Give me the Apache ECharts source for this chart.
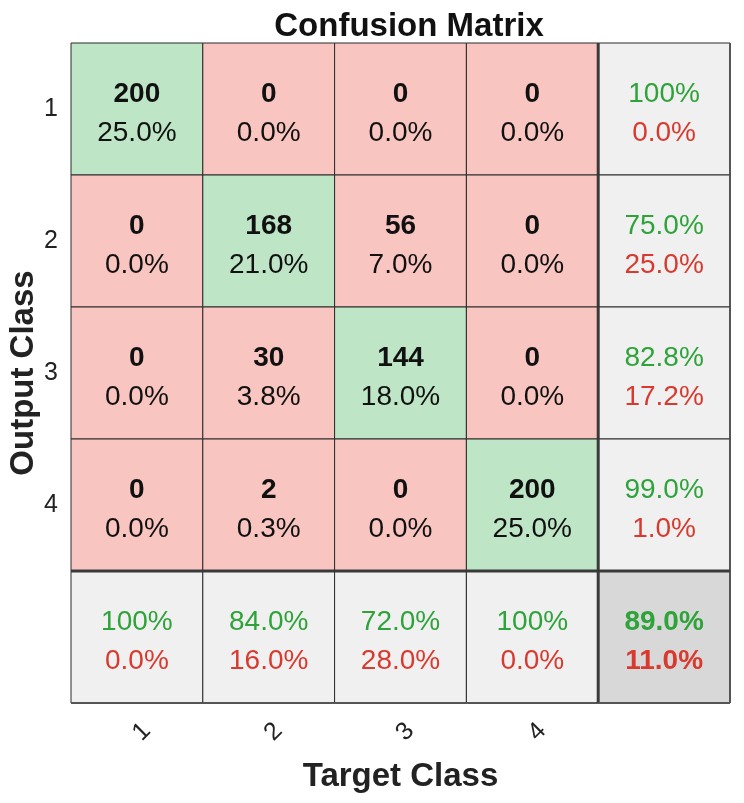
<!DOCTYPE html>
<html><head><meta charset="utf-8">
<script src="https://cdn.jsdelivr.net/npm/echarts@6/dist/echarts.min.js"></script>
<style>html,body{margin:0;padding:0;background:#fff}#c{width:744px;height:803px}</style>
</head><body><div id="c"></div>
<script>
var targetClasses = ['1', '2', '3', '4', ' '];
var outputClasses = ['1', '2', '3', '4', ' '];
// counts[row = output][col = target]
var counts = [
  [200, 0, 0, 0],
  [0, 168, 56, 0],
  [0, 30, 144, 0],
  [0, 2, 0, 200]
];
var cellPercents = [
  ['25.0%', '0.0%', '0.0%', '0.0%'],
  ['0.0%', '21.0%', '7.0%', '0.0%'],
  ['0.0%', '3.8%', '18.0%', '0.0%'],
  ['0.0%', '0.3%', '0.0%', '25.0%']
];
var rowCorrect = ['100%', '75.0%', '82.8%', '99.0%'];
var rowWrong = ['0.0%', '25.0%', '17.2%', '1.0%'];
var colCorrect = ['100%', '84.0%', '72.0%', '100%'];
var colWrong = ['0.0%', '16.0%', '28.0%', '0.0%'];
var totalCorrect = '89.0%';
var totalWrong = '11.0%';

var cells = [];
var meta = [];
for (var r = 0; r < 5; r++) {
  for (var c = 0; c < 5; c++) {
    var kind, line1, line2;
    if (r < 4 && c < 4) {
      kind = (r === c) ? 'diag' : 'off';
      line1 = String(counts[r][c]); line2 = cellPercents[r][c];
    } else if (r < 4 && c === 4) {
      kind = 'sum'; line1 = rowCorrect[r]; line2 = rowWrong[r];
    } else if (r === 4 && c < 4) {
      kind = 'sum'; line1 = colCorrect[c]; line2 = colWrong[c];
    } else {
      kind = 'total'; line1 = totalCorrect; line2 = totalWrong;
    }
    cells.push([c, r]);
    meta.push({ kind: kind, t1: line1, t2: line2 });
  }
}

var FONT = '"Liberation Sans", Arial, Helvetica, sans-serif';
var fills = { diag: '#bde5c6', off: '#f8c5c1', sum: '#f0f0f0', total: '#d8d8d8' };
var GREEN = '#2ea33a', RED = '#d83a2f';

function renderCell(params, api) {
  var m = meta[params.dataIndex];
  var c = api.value(0), r = api.value(1);
  var p = api.coord([c, r]);
  var s = api.size([1, 1]);
  var x0 = p[0] - s[0] / 2, y0 = p[1] - s[1] / 2;
  var isSum = m.kind === 'sum' || m.kind === 'total';
  var topColor = isSum ? GREEN : '#111';
  var botColor = isSum ? RED : '#111';
  var topWeight = (m.kind === 'sum') ? 'normal' : 'bold';
  var botWeight = m.kind === 'total' ? 'bold' : 'normal';
  var children = [
    { type: 'rect', shape: { x: x0, y: y0, width: s[0], height: s[1] },
      style: { fill: fills[m.kind], stroke: '#2a2a2a', lineWidth: 1 } },
    { type: 'text', x: p[0], y: p[1] - 15,
      style: { text: m.t1, fill: topColor, font: topWeight + ' 28px ' + FONT, align: 'center', verticalAlign: 'middle' } },
    { type: 'text', x: p[0], y: p[1] + 24,
      style: { text: m.t2, fill: botColor, font: botWeight + ' 28px ' + FONT, align: 'center', verticalAlign: 'middle' } }
  ];
  if (c === 4) {
    children.push({ type: 'line', shape: { x1: x0, y1: y0, x2: x0, y2: y0 + s[1] }, style: { stroke: '#3a3a3a', lineWidth: 3 } });
    children.push({ type: 'line', shape: { x1: x0 + s[0], y1: y0, x2: x0 + s[0], y2: y0 + s[1] }, style: { stroke: '#555', lineWidth: 2 } });
  }
  if (r === 4) {
    children.push({ type: 'line', shape: { x1: x0, y1: y0, x2: x0 + s[0], y2: y0 }, style: { stroke: '#3a3a3a', lineWidth: 3 } });
    children.push({ type: 'line', shape: { x1: x0, y1: y0 + s[1], x2: x0 + s[0], y2: y0 + s[1] }, style: { stroke: '#555', lineWidth: 2 } });
  }
  return { type: 'group', children: children };
}

var chart = echarts.init(document.getElementById('c'));
chart.setOption({
  backgroundColor: '#fff',
  animation: false,
  title: {
    text: 'Confusion Matrix', left: 404, top: 5, textAlign: 'center',
    textStyle: { fontFamily: FONT, fontSize: 33, fontWeight: 'bold', color: '#111' }
  },
  grid: { left: 71, top: 43, width: 659, height: 660, outerBoundsMode: 'none', containLabel: false },
  xAxis: {
    type: 'category', data: targetClasses, position: 'bottom',
    name: 'Target Class', nameLocation: 'middle', nameGap: 57, nameMoveOverlap: false,
    nameTextStyle: { fontFamily: FONT, fontSize: 33, fontWeight: 'bold', color: '#222' },
    axisLine: { show: false }, axisTick: { show: false }, splitLine: { show: false },
    axisLabel: { rotate: 45, margin: 34, align: 'left', verticalAlign: 'middle',
      fontFamily: FONT, fontSize: 25, color: '#222' }
  },
  yAxis: {
    type: 'category', data: outputClasses, inverse: true,
    name: 'Output Class', nameLocation: 'middle', nameGap: 31, nameMoveOverlap: false,
    nameTextStyle: { fontFamily: FONT, fontSize: 33, fontWeight: 'bold', color: '#222' },
    axisLine: { show: false }, axisTick: { show: false }, splitLine: { show: false },
    axisLabel: { margin: 13, fontFamily: FONT, fontSize: 25, color: '#222' }
  },
  series: [{
    type: 'custom',
    data: cells,
    renderItem: renderCell
  }]
});
</script>
</body></html>
